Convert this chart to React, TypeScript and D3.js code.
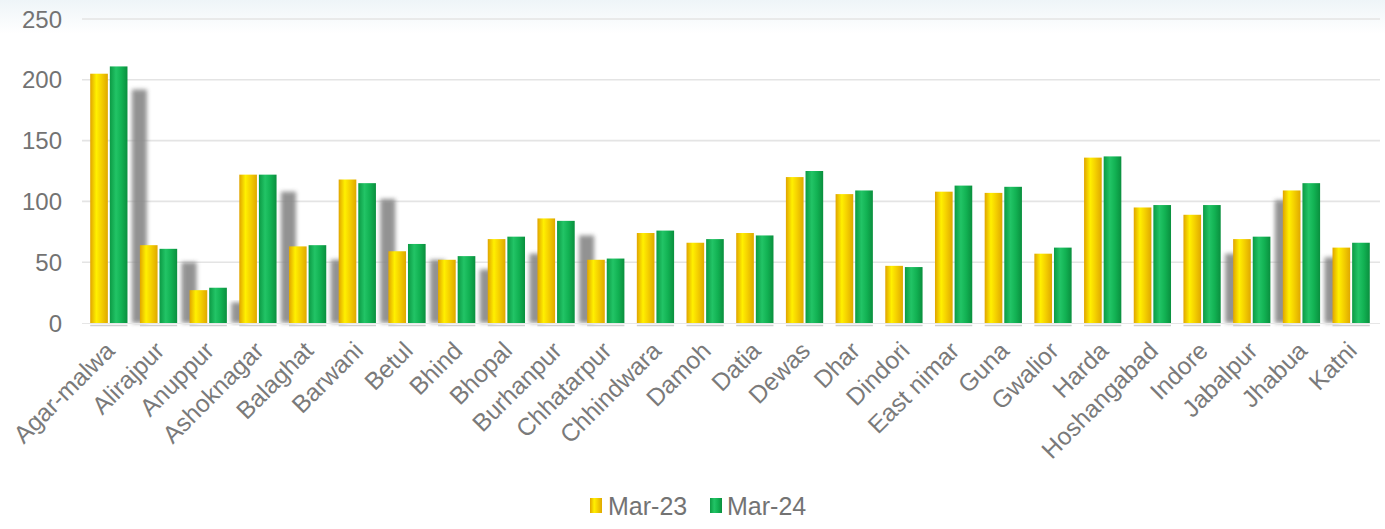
import React from "react";
import * as d3 from "d3";

const categories = [
  "Agar-malwa", "Alirajpur", "Anuppur", "Ashoknagar", "Balaghat", "Barwani", "Betul",
  "Bhind", "Bhopal", "Burhanpur", "Chhatarpur", "Chhindwara", "Damoh", "Datia", "Dewas",
  "Dhar", "Dindori", "East nimar", "Guna", "Gwalior", "Harda", "Hoshangabad", "Indore",
  "Jabalpur", "Jhabua", "Katni",
];
const mar23 = [205, 64, 27, 122, 63, 118, 59, 52, 69, 86, 52, 74, 66, 74, 120, 106, 47, 108, 107, 57, 136, 95, 89, 69, 109, 62];
const mar24 = [211, 61, 29, 122, 64, 115, 65, 55, 71, 84, 53, 76, 69, 72, 125, 109, 46, 113, 112, 62, 137, 97, 97, 71, 115, 66];
// faint grey ghost bars visible behind some groups in the reference
const ghost = [0, 192, 50, 17, 108, 52, 102, 52, 44, 57, 72, 0, 0, 0, 0, 0, 0, 0, 0, 0, 0, 0, 0, 57, 101, 54];
const seriesNames = ["Mar-23", "Mar-24"];
const yTicks = [0, 50, 100, 150, 200, 250];

const W = 1385;
const H = 529;
const FONT = "'Liberation Sans', Arial, sans-serif";

export default function App() {
  const x0 = d3.scaleBand<string>().domain(categories).range([84, 1376]).paddingInner(0.25).paddingOuter(0.125);
  const x1 = d3.scaleBand<string>().domain(seriesNames).range([0, x0.bandwidth()]).paddingInner(0.1);
  const y = d3.scaleLinear().domain([0, 250]).range([323, 19]);
  const values = [mar23, mar24];
  const fills = ["url(#gYellow)", "url(#gGreen)"];

  return (
    <svg width={W} height={H} style={{ position: "absolute", left: 0, top: 0, display: "block", background: "#fff" }}>
      <defs>
        <linearGradient id="gYellow" x1="0" x2="1" y1="0" y2="0">
          <stop offset="0" stopColor="#e0a400" />
          <stop offset="0.35" stopColor="#fff000" />
          <stop offset="0.6" stopColor="#f6d400" />
          <stop offset="1" stopColor="#dfa800" />
        </linearGradient>
        <linearGradient id="gGreen" x1="0" x2="1" y1="0" y2="0">
          <stop offset="0" stopColor="#0c9a44" />
          <stop offset="0.35" stopColor="#22c466" />
          <stop offset="0.65" stopColor="#12b253" />
          <stop offset="1" stopColor="#0a8f3e" />
        </linearGradient>
        <linearGradient id="gTop" x1="0" x2="0" y1="0" y2="1">
          <stop offset="0" stopColor="#eef5f8" />
          <stop offset="1" stopColor="#ffffff" />
        </linearGradient>
        <filter id="blur" x="-50%" y="-10%" width="200%" height="120%">
          <feGaussianBlur stdDeviation="2" />
        </filter>
      </defs>
      <rect x={0} y={0} width={W} height={34} fill="url(#gTop)" />

      {yTicks.map((t) => (
        <g key={t}>
          {t > 0 && <line x1={82} x2={1380} y1={y(t)} y2={y(t)} stroke="#e4e4e4" strokeWidth={1.6} />}
          <text x={62} y={y(t)} dy="0.36em" textAnchor="end" fontFamily={FONT} fontSize={24} fill="#737373">
            {t}
          </text>
        </g>
      ))}

      {categories.map((c, i) =>
        ghost[i] > 0 ? (
          <rect
            key={"gh" + c}
            x={(x0(c) as number) - 8}
            y={y(ghost[i])}
            width={15}
            height={y(0) - y(ghost[i])}
            fill="#878787"
            opacity={0.9}
            filter="url(#blur)"
          />
        ) : null
      )}

      {categories.map((c, i) => (
        <g key={c} transform={`translate(${x0(c)},0)`}>
          {seriesNames.map((s, k) => (
            <rect
              key={s}
              x={x1(s)}
              y={y(values[k][i])}
              width={x1.bandwidth()}
              height={y(0) - y(values[k][i])}
              fill={fills[k]}
            />
          ))}
          <line x1={0} x2={x0.bandwidth()} y1={325.5} y2={325.5} stroke="#cfcfcf" strokeWidth={1.5} />
        </g>
      ))}
      <line x1={82} x2={1380} y1={323.5} y2={323.5} stroke="#e6e6e6" strokeWidth={1} />

      {categories.map((c) => {
        const cx = (x0(c) as number) + x0.bandwidth() / 2;
        return (
          <text
            key={"l" + c}
            transform={`translate(${cx + 1},${346}) rotate(-45)`}
            textAnchor="end"
            dy="0.36em"
            fontFamily={FONT}
            fontSize={24.5}
            fill="#7a7a7a"
          >
            {c}
          </text>
        );
      })}

      <g>
        <rect x={590} y={498} width={12} height={15} fill="url(#gYellow)" />
        <text x={608} y={506} dy="0.36em" fontFamily={FONT} fontSize={25} fill="#737373">
          {seriesNames[0]}
        </text>
        <rect x={710} y={498} width={12} height={15} fill="url(#gGreen)" />
        <text x={727} y={506} dy="0.36em" fontFamily={FONT} fontSize={25} fill="#737373">
          {seriesNames[1]}
        </text>
      </g>
    </svg>
  );
}
